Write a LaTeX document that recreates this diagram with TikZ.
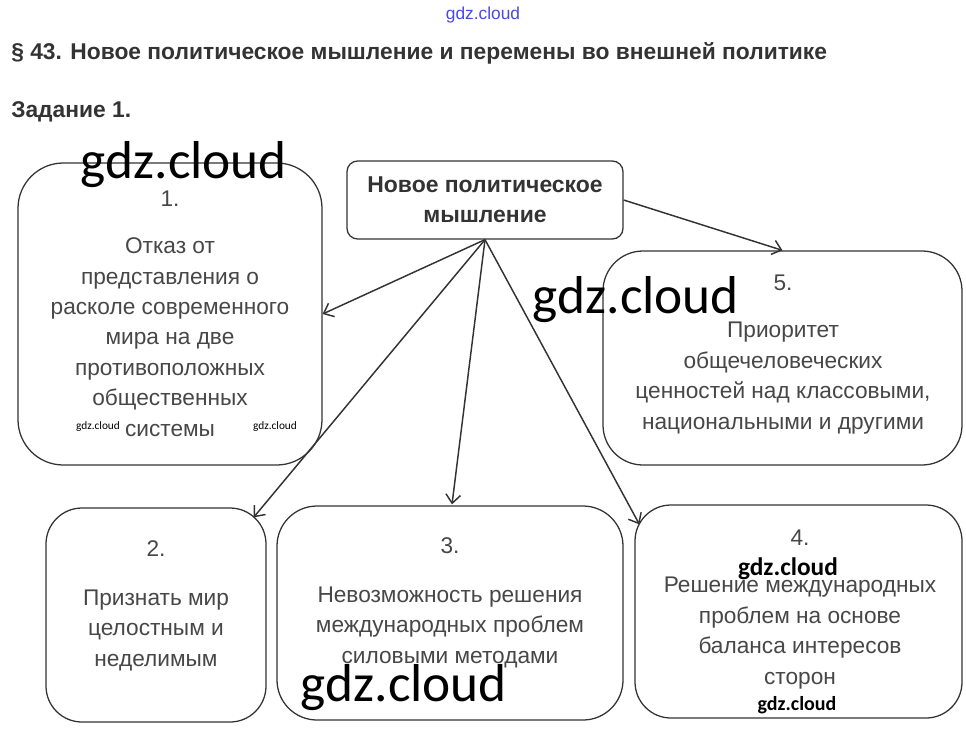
\documentclass[tikz,border=0pt]{standalone}
\usepackage{fontspec}
\setmainfont{Liberation Sans}
\newfontfamily\wmfont{Carlito}
\usetikzlibrary{arrows.meta,calc,fit}
\definecolor{ink}{HTML}{333333}
\definecolor{txt}{HTML}{474747}
\definecolor{wmblue}{HTML}{4A4AE0}
\begin{document}
\begin{tikzpicture}[x=0.75pt,y=-0.75pt,
  box/.style={draw=ink, line width=0.95pt, inner sep=0pt, fit={#1}},
  conn/.style={draw=ink, line width=1.1pt, -{Straight Barb[length=6.5pt,width=11pt]}},
  num/.style={text=txt, font=\fontsize{17}{22.8}\selectfont, anchor=base, inner sep=0pt},
  body/.style={text=txt, font=\fontsize{17}{22.8}\selectfont, align=center, anchor=base, inner sep=0pt},
  head/.style={text=ink, font=\bfseries\fontsize{17.2}{21.8}\selectfont, align=center, anchor=base, inner sep=0pt},
  wmbig/.style={text=black, font=\wmfont\fontsize{40}{40}\selectfont, anchor=base, inner sep=0pt},
  wmmid/.style={text=black, font=\wmfont\bfseries\fontsize{19}{19}\selectfont, anchor=base, inner sep=0pt},
  wmsmall/.style={text=black, font=\wmfont\bfseries\fontsize{15}{15}\selectfont, anchor=base, inner sep=0pt},
  wmtiny/.style={text=black, font=\wmfont\fontsize{8.5}{8.5}\selectfont, anchor=base, inner sep=0pt},
  titlef/.style={text=ink, font=\bfseries\fontsize{17.1}{17}\selectfont, anchor=base west, inner sep=0pt}
]
\useasboundingbox[fill=white] (0,0) rectangle (966,753);

% header
\node[text=wmblue, font=\fontsize{13}{13}\selectfont, anchor=base, inner sep=0pt] (wmtop) at (483,19) {gdz.cloud};
\node[titlef] (title) at (11,59) {§ 43. Новое политическое мышление и перемены во внешней политике};
\node[titlef] (task) at (11,117) {Задание 1.};

% boxes
\node[box={(347,161) (623,239)}, rounded corners=8pt] (c) {};
\node[box={(18,163) (322,465)}, rounded corners=34pt] (b1) {};
\node[box={(603,251) (962,465)}, rounded corners=30pt] (b5) {};
\node[box={(46,508) (266,722)}, rounded corners=27pt] (b2) {};
\node[box={(277,506) (623,720)}, rounded corners=30pt] (b3) {};
\node[box={(635,505) (962,718)}, rounded corners=27pt] (b4) {};

% texts (anchor base = baseline of the last line)
\node[head] (ct) at (485,222) {Новое политическое\\мышление};

\node[num] (n1) at (170,206) {1.};
\node[body] (t1) at (170,436) {Отказ от\\представления о\\расколе современного\\мира на две\\противоположных\\общественных\\системы};

\node[num] (n5) at (783,290) {5.};
\node[body] (t5) at (783,429) {Приоритет\\общечеловеческих\\ценностей над классовыми,\\национальными и другими};

\node[num] (n2) at (156,556) {2.};
\node[body] (t2) at (156,666) {Признать мир\\целостным и\\неделимым};

\node[num] (n3) at (450,553) {3.};
\node[body] (t3) at (450,663) {Невозможность решения\\международных проблем\\силовыми методами};

\node[num] (n4) at (800,545) {4.};
\node[body] (t4) at (800,684) {Решение международных\\проблем на основе\\баланса интересов\\сторон};

% connectors
\draw[conn] (c.south) -- (b1.east);
\draw[conn] (c.south) -- ($(b2.north east)+(-13,10)$);
\draw[conn] (c.south) -- ($(b3.north)+(2,-1)$);
\draw[conn] (c.south) -- ($(b4.north west)+(5,20)$);
\draw[conn] (c.east) -- (b5.north);

% watermarks
\node[wmbig] (w1) at (184,178) {gdz.cloud};
\node[wmbig] (w2) at (636,313) {gdz.cloud};
\node[wmbig] (w3) at (404,701) {gdz.cloud};
\node[wmmid] (w4) at (788,575) {gdz.cloud};
\node[wmsmall] (w5) at (797,710) {gdz.cloud};
\node[wmtiny] (w6) at (98,429) {gdz.cloud};
\node[wmtiny] (w7) at (275,429) {gdz.cloud};
\end{tikzpicture}
\end{document}
